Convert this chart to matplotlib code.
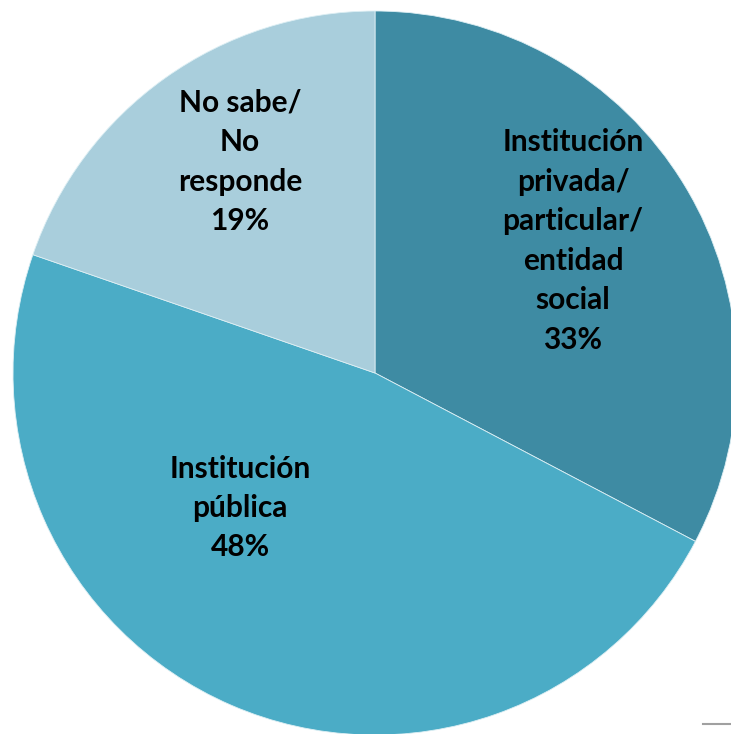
import matplotlib
matplotlib.use("Agg")
import matplotlib.pyplot as plt
from matplotlib.lines import Line2D

categories = ["Institución\nprivada/\nparticular/\nentidad\nsocial",
              "Institución\npública",
              "No sabe/\nNo\nresponde"]
values = [32.7, 47.6, 19.7]
pct_labels = ["33%", "48%", "19%"]
colors = ["#3E8BA3", "#4BACC6", "#A9CEDC"]

W, H = 731, 734
fig = plt.figure(figsize=(W / 100, H / 100), dpi=100)
ax = fig.add_axes([0, 0, 1, 1])

cx, cy, r = 375, H - 373, 362
wedges, _ = ax.pie(values, colors=colors, startangle=90, counterclock=False,
                   center=(cx, cy), radius=r, frame=True,
                   wedgeprops=dict(edgecolor="#DDEFF4", linewidth=0.6))
ax.set_xlim(0, W)
ax.set_ylim(0, H)
ax.set_aspect("equal")
ax.axis("off")

label_pos = [(573, H - 241), (240, H - 508), (240, H - 162)]
for (x, y), cat, p in zip(label_pos, categories, pct_labels):
    ax.text(x, y, cat + "\n" + p, ha="center", va="center",
            fontsize=21.5, fontweight="bold", family=["Lato", "DejaVu Sans"],
            color="black", linespacing=1.5)

fig.add_artist(Line2D([703 / W, 1.0], [1 - 724 / H, 1 - 724 / H],
                      color="#A0A0A0", linewidth=1.5, transform=fig.transFigure))

fig.savefig("out.png", dpi=100)
